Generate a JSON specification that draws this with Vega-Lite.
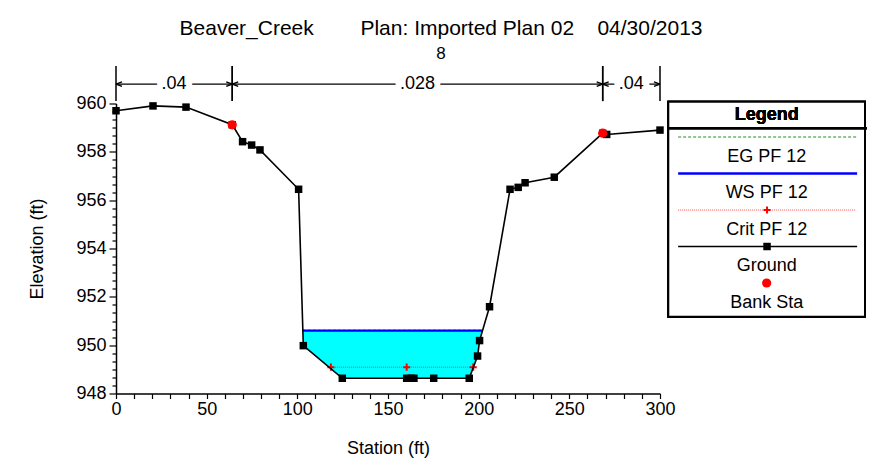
{
  "$schema": "https://vega.github.io/schema/vega-lite/v6.json",
  "width": 544,
  "height": 290,
  "autosize": {"type": "none"},
  "padding": {"left": 116, "top": 103.5, "right": 210, "bottom": 65.5},
  "background": "white",
  "config": {"view": {"stroke": null}, "font": "Liberation Sans"},
  "title": {
    "text": "Beaver_Creek\u00a0\u00a0\u00a0\u00a0\u00a0\u00a0\u00a0\u00a0Plan: Imported Plan 02\u00a0\u00a0\u00a0\u00a004/30/2013",
    "subtitle": "\u00a0\u00a0\u00a08",
    "font": "Liberation Sans",
    "subtitleFont": "Liberation Sans",
    "fontSize": 21,
    "fontWeight": "normal",
    "subtitleFontSize": 17,
    "color": "black",
    "subtitleColor": "black",
    "anchor": "middle",
    "frame": "group",
    "dx": 53,
    "offset": 3,
    "subtitlePadding": 7
  },
  "datasets": {
    "ground": [
      {"station": 0, "elevation": 959.7},
      {"station": 20.4, "elevation": 959.9},
      {"station": 38.6, "elevation": 959.85},
      {"station": 64.1, "elevation": 959.12},
      {"station": 69.8, "elevation": 958.42},
      {"station": 74.8, "elevation": 958.28},
      {"station": 79.4, "elevation": 958.08},
      {"station": 100.7, "elevation": 956.45},
      {"station": 103.3, "elevation": 949.98},
      {"station": 124.8, "elevation": 948.63},
      {"station": 160.3, "elevation": 948.63},
      {"station": 162.7, "elevation": 948.63},
      {"station": 164.3, "elevation": 948.63},
      {"station": 175.2, "elevation": 948.63},
      {"station": 194.8, "elevation": 948.63},
      {"station": 199.4, "elevation": 949.55},
      {"station": 200.5, "elevation": 950.19},
      {"station": 206.0, "elevation": 951.59},
      {"station": 217.3, "elevation": 956.45},
      {"station": 221.8, "elevation": 956.53},
      {"station": 225.6, "elevation": 956.72},
      {"station": 241.7, "elevation": 956.95},
      {"station": 268.4, "elevation": 958.77},
      {"station": 270.6, "elevation": 958.72},
      {"station": 300, "elevation": 958.9}
    ],
    "banks": [
      {"station": 64.1, "elevation": 959.12},
      {"station": 268.4, "elevation": 958.77}
    ],
    "water": [
      {"station": 103.05, "bottom": 950.6, "ws": 950.6},
      {"station": 103.3, "bottom": 949.98, "ws": 950.6},
      {"station": 124.8, "bottom": 948.63, "ws": 950.6},
      {"station": 194.8, "bottom": 948.63, "ws": 950.6},
      {"station": 199.4, "bottom": 949.55, "ws": 950.6},
      {"station": 200.5, "bottom": 950.19, "ws": 950.6},
      {"station": 202.1, "bottom": 950.6, "ws": 950.6}
    ],
    "profiles": [
      {"profile": "EG PF 12", "station": 103.05, "elevation": 950.62},
      {"profile": "EG PF 12", "station": 202.1, "elevation": 950.62},
      {"profile": "WS PF 12", "station": 103.05, "elevation": 950.6},
      {"profile": "WS PF 12", "station": 202.1, "elevation": 950.6},
      {"profile": "Crit PF 12", "station": 118.5, "elevation": 949.09},
      {"profile": "Crit PF 12", "station": 160.3, "elevation": 949.09},
      {"profile": "Crit PF 12", "station": 197.0, "elevation": 949.09}
    ],
    "nvalues": [
      {"start": 0, "end": 64.1, "mid": 32.05, "n": ".04"},
      {"start": 64.1, "end": 268.4, "mid": 166.25, "n": ".028"},
      {"start": 268.4, "end": 300, "mid": 284.2, "n": ".04"}
    ],
    "legend": [
      {"item": "EG PF 12", "row": 1},
      {"item": "WS PF 12", "row": 2},
      {"item": "Crit PF 12", "row": 3},
      {"item": "Ground", "row": 4},
      {"item": "Bank Sta", "row": 5}
    ]
  },
  "layer": [
    {
      "layer": [
        {
          "data": {"name": "water"},
          "mark": {"type": "area", "color": "#00ffff", "opacity": 1},
          "encoding": {
            "x": {"field": "station", "type": "quantitative",
              "scale": {"domain": [0, 300], "nice": false, "zero": false},
              "axis": {
                "values": [0,10,20,30,40,50,60,70,80,90,100,110,120,130,140,150,160,170,180,190,200,210,220,230,240,250,260,270,280,290,300],
                "tickCount": 200,
                "labelExpr": "datum.value % 50 === 0 ? datum.label : ''",
                "format": "d",
                "labelFlush": false,
                "labelOverlap": false,
                "grid": false,
                "domainColor": "black",
                "domainWidth": 1.5,
                "tickColor": "black",
                "tickWidth": 1.2,
                "tickSize": 5,
                "labelPadding": 2,
                "labelFontSize": 18,
                "labelColor": "black",
                "title": "Station (ft)",
                "titleFontSize": 18,
                "titleFontWeight": "normal",
                "titleColor": "black",
                "titlePadding": 21
              }
            },
            "y": {"field": "bottom", "type": "quantitative",
              "scale": {"domain": [948, 960], "nice": false, "zero": false},
              "axis": {
                "values": [948,948.333333,948.666667,949,949.333333,949.666667,950,950.333333,950.666667,951,951.333333,951.666667,952,952.333333,952.666667,953,953.333333,953.666667,954,954.333333,954.666667,955,955.333333,955.666667,956,956.333333,956.666667,957,957.333333,957.666667,958,958.333333,958.666667,959,959.333333,959.666667,960],
                "tickCount": 200,
                "labelExpr": "abs(datum.value - 2*round(datum.value/2)) < 0.01 ? '' + round(datum.value) : ''",
                "labelOverlap": false,
                "labelFlush": false,
                "grid": false,
                "domainColor": "black",
                "domainWidth": 1.5,
                "tickColor": "black",
                "tickWidth": 1.2,
                "tickSize": {"condition": {"test": "abs(datum.value - 2*round(datum.value/2)) < 0.01", "value": 7}, "value": 4},
                "labelPadding": 3,
                "labelFontSize": 18,
                "labelColor": "black",
                "title": "Elevation (ft)",
                "titleFontSize": 18,
                "titleFontWeight": "normal",
                "titleColor": "black",
                "titlePadding": 29
              }
            },
            "y2": {"field": "ws"}
          }
        },
        {
          "data": {"name": "profiles"},
          "transform": [{"filter": "datum.profile === 'EG PF 12'"}],
          "mark": {"type": "line", "color": "#1f8f1f", "strokeWidth": 1, "strokeDash": [3, 2]},
          "encoding": {
            "x": {"field": "station", "type": "quantitative"},
            "y": {"field": "elevation", "type": "quantitative"}
          }
        },
        {
          "data": {"name": "profiles"},
          "transform": [{"filter": "datum.profile === 'WS PF 12'"}],
          "mark": {"type": "line", "color": "#0000ff", "strokeWidth": 2.2},
          "encoding": {
            "x": {"field": "station", "type": "quantitative"},
            "y": {"field": "elevation", "type": "quantitative"}
          }
        },
        {
          "data": {"name": "profiles"},
          "transform": [{"filter": "datum.profile === 'Crit PF 12'"}],
          "mark": {"type": "line", "color": "#ff3030", "strokeWidth": 1, "strokeDash": [1, 1]},
          "encoding": {
            "x": {"field": "station", "type": "quantitative"},
            "y": {"field": "elevation", "type": "quantitative"}
          }
        },
        {
          "data": {"name": "profiles"},
          "transform": [{"filter": "datum.profile === 'Crit PF 12'"}],
          "mark": {"type": "point", "shape": "M-1,0L1,0M0,-1L0,1", "filled": false, "stroke": "#ff0000", "strokeWidth": 2, "size": 50, "opacity": 1},
          "encoding": {
            "x": {"field": "station", "type": "quantitative"},
            "y": {"field": "elevation", "type": "quantitative"}
          }
        },
        {
          "data": {"name": "ground"},
          "mark": {"type": "line", "color": "black", "strokeWidth": 1.6},
          "encoding": {
            "x": {"field": "station", "type": "quantitative"},
            "y": {"field": "elevation", "type": "quantitative"}
          }
        },
        {
          "data": {"name": "ground"},
          "mark": {"type": "point", "shape": "square", "filled": true, "color": "black", "size": 56, "opacity": 1},
          "encoding": {
            "x": {"field": "station", "type": "quantitative"},
            "y": {"field": "elevation", "type": "quantitative"}
          }
        },
        {
          "data": {"name": "banks"},
          "mark": {"type": "point", "shape": "circle", "filled": true, "color": "#ff0000", "size": 85, "opacity": 1},
          "encoding": {
            "x": {"field": "station", "type": "quantitative"},
            "y": {"field": "elevation", "type": "quantitative"}
          }
        },
        {
          "data": {"name": "nvalues"},
          "mark": {"type": "rule", "color": "black", "strokeWidth": 1.2},
          "encoding": {
            "x": {"field": "start", "type": "quantitative"},
            "x2": {"field": "end"},
            "y": {"datum": 960.8, "type": "quantitative"}
          }
        },
        {
          "data": {"name": "nvalues"},
          "mark": {"type": "rule", "color": "black", "strokeWidth": 1.5},
          "encoding": {
            "x": {"field": "start", "type": "quantitative"},
            "y": {"datum": 960.1, "type": "quantitative"},
            "y2": {"datum": 961.55}
          }
        },
        {
          "data": {"name": "nvalues"},
          "mark": {"type": "rule", "color": "black", "strokeWidth": 1.5},
          "encoding": {
            "x": {"field": "end", "type": "quantitative"},
            "y": {"datum": 960.1, "type": "quantitative"},
            "y2": {"datum": 961.55}
          }
        },
        {
          "data": {"name": "nvalues"},
          "mark": {"type": "point", "shape": "M0,0L2,-0.75M0,0L2,0.75", "filled": false, "stroke": "black", "strokeWidth": 1.5, "size": 36, "opacity": 1},
          "encoding": {
            "x": {"field": "start", "type": "quantitative"},
            "y": {"datum": 960.8, "type": "quantitative"}
          }
        },
        {
          "data": {"name": "nvalues"},
          "mark": {"type": "point", "shape": "M0,0L-2,-0.75M0,0L-2,0.75", "filled": false, "stroke": "black", "strokeWidth": 1.5, "size": 36, "opacity": 1},
          "encoding": {
            "x": {"field": "end", "type": "quantitative"},
            "y": {"datum": 960.8, "type": "quantitative"}
          }
        },
        {
          "data": {"name": "nvalues"},
          "mark": {"type": "text", "fontSize": 18, "fill": "white", "stroke": "white", "strokeWidth": 12, "baseline": "middle", "align": "center"},
          "encoding": {
            "x": {"field": "mid", "type": "quantitative"},
            "y": {"datum": 960.8, "type": "quantitative"},
            "text": {"field": "n"}
          }
        },
        {
          "data": {"name": "nvalues"},
          "mark": {"type": "text", "fontSize": 18, "color": "black", "baseline": "middle", "align": "center"},
          "encoding": {
            "x": {"field": "mid", "type": "quantitative"},
            "y": {"datum": 960.8, "type": "quantitative"},
            "text": {"field": "n"}
          }
        }
      ]
    },
    {
      "data": {"name": "legend"},
      "layer": [
        {
          "mark": {"type": "rect", "fill": "white", "stroke": "black", "strokeWidth": 2},
          "encoding": {
            "x": {"datum": 0, "type": "quantitative", "scale": {"domain": [0, 1], "range": [552.3, 749], "nice": false, "zero": false}, "axis": null},
            "x2": {"datum": 1},
            "y": {"datum": 0.033, "type": "quantitative", "scale": {"domain": [0, 6], "range": [-3, 216], "nice": false, "zero": false}, "axis": null},
            "y2": {"datum": 5.923}
          }
        },
        {
          "mark": {"type": "rule", "color": "black", "strokeWidth": 2},
          "encoding": {
            "x": {"datum": 0, "type": "quantitative", "axis": null},
            "x2": {"datum": 1.01},
            "y": {"datum": 0.762, "type": "quantitative", "axis": null}
          }
        },
        {
          "mark": {"type": "text", "text": "Legend", "fontSize": 18, "fontWeight": "bold", "color": "black", "baseline": "middle", "align": "center"},
          "encoding": {
            "x": {"datum": 0.5, "type": "quantitative", "axis": null},
            "y": {"datum": 0.397, "type": "quantitative", "axis": null}
          }
        },
        {
          "transform": [{"filter": "datum.item === 'EG PF 12'"}],
          "mark": {"type": "rule", "color": "#1f8f1f", "strokeWidth": 1, "strokeDash": [3, 2]},
          "encoding": {
            "x": {"datum": 0.05, "type": "quantitative", "axis": null},
            "x2": {"datum": 0.955},
            "y": {"field": "row", "type": "quantitative", "axis": null}
          }
        },
        {
          "transform": [{"filter": "datum.item === 'WS PF 12'"}],
          "mark": {"type": "rule", "color": "#0000ff", "strokeWidth": 2.5},
          "encoding": {
            "x": {"datum": 0.05, "type": "quantitative", "axis": null},
            "x2": {"datum": 0.96},
            "y": {"field": "row", "type": "quantitative", "axis": null}
          }
        },
        {
          "transform": [{"filter": "datum.item === 'Crit PF 12'"}],
          "mark": {"type": "rule", "color": "#ff5050", "strokeWidth": 1, "strokeDash": [1, 1]},
          "encoding": {
            "x": {"datum": 0.05, "type": "quantitative", "axis": null},
            "x2": {"datum": 0.955},
            "y": {"field": "row", "type": "quantitative", "axis": null}
          }
        },
        {
          "transform": [{"filter": "datum.item === 'Crit PF 12'"}],
          "mark": {"type": "point", "shape": "M-1,0L1,0M0,-1L0,1", "filled": false, "stroke": "#ff0000", "strokeWidth": 2, "size": 50, "opacity": 1},
          "encoding": {
            "x": {"datum": 0.502, "type": "quantitative", "axis": null},
            "y": {"field": "row", "type": "quantitative", "axis": null}
          }
        },
        {
          "transform": [{"filter": "datum.item === 'Ground'"}],
          "mark": {"type": "rule", "color": "black", "strokeWidth": 1.6},
          "encoding": {
            "x": {"datum": 0.05, "type": "quantitative", "axis": null},
            "x2": {"datum": 0.96},
            "y": {"field": "row", "type": "quantitative", "axis": null}
          }
        },
        {
          "transform": [{"filter": "datum.item === 'Ground'"}],
          "mark": {"type": "point", "shape": "square", "filled": true, "color": "black", "size": 56, "opacity": 1},
          "encoding": {
            "x": {"datum": 0.502, "type": "quantitative", "axis": null},
            "y": {"field": "row", "type": "quantitative", "axis": null}
          }
        },
        {
          "transform": [{"filter": "datum.item === 'Bank Sta'"}],
          "mark": {"type": "point", "shape": "circle", "filled": true, "color": "#ff0000", "size": 85, "opacity": 1},
          "encoding": {
            "x": {"datum": 0.5, "type": "quantitative", "axis": null},
            "y": {"field": "row", "type": "quantitative", "axis": null}
          }
        },
        {
          "mark": {"type": "text", "fontSize": 18, "color": "black", "baseline": "middle", "align": "center", "yOffset": 19.5},
          "encoding": {
            "x": {"datum": 0.5, "type": "quantitative", "axis": null},
            "y": {"field": "row", "type": "quantitative", "axis": null},
            "text": {"field": "item"}
          }
        }
      ]
    }
  ],
  "resolve": {"scale": {"x": "independent", "y": "independent"}}
}
